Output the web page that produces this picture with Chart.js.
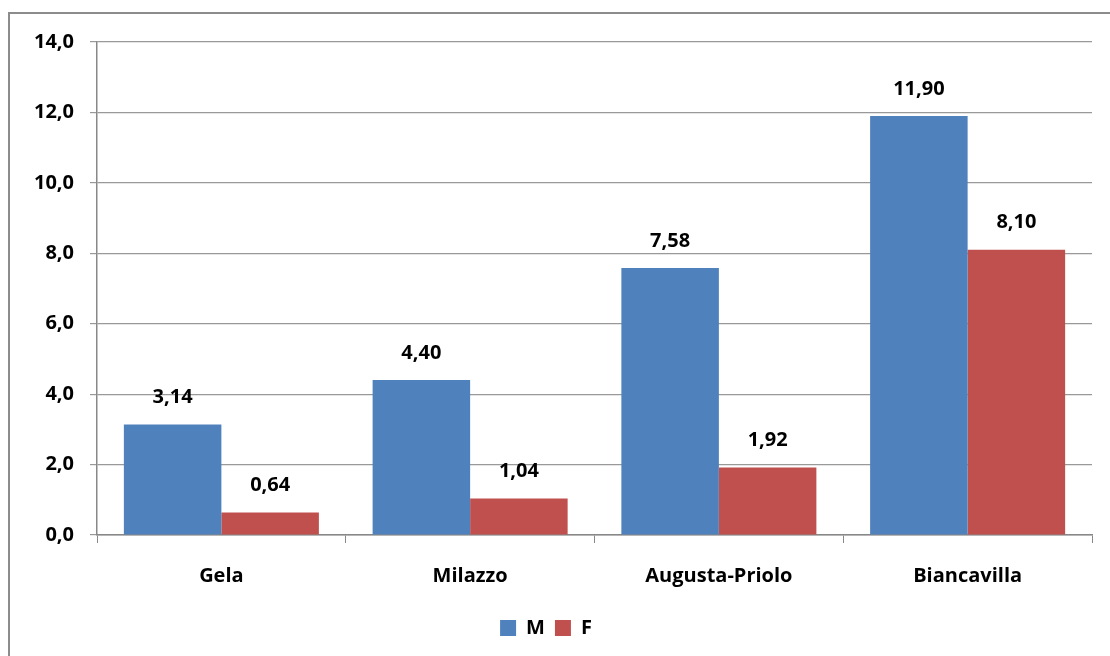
<!DOCTYPE html>
<html>
<head>
<meta charset="utf-8">
<script src="https://cdn.jsdelivr.net/npm/chart.js@4/dist/chart.umd.min.js"></script>
<style>
  html, body { margin: 0; padding: 0; background: #fff; }
  #wrap { width: 1110px; height: 656px; position: relative; }
</style>
</head>
<body>
<div id="wrap"><canvas id="c" width="1110" height="656"></canvas></div>
<script>
const categories = ['Gela', 'Milazzo', 'Augusta-Priolo', 'Biancavilla'];
const valuesM = [3.14, 4.40, 7.58, 11.90];
const valuesF = [0.64, 1.04, 1.92, 8.10];
const seriesNames = ['M', 'F'];
const colorM = '#4F81BD';
const colorF = '#C0504D';

const FONT = '"Open Sans", Lato, "Liberation Sans", sans-serif';
const FSIZE = 20;
const fmt = (v, d) => v.toFixed(d).replace('.', ',');

// Outer frame of the chart object
const framePlugin = {
  id: 'frame',
  beforeDraw(chart) {
    const ctx = chart.ctx;
    ctx.save();
    ctx.fillStyle = '#fff';
    ctx.fillRect(0, 0, chart.width, chart.height);
    ctx.strokeStyle = '#8c8c8c';
    ctx.lineWidth = 2;
    ctx.beginPath();
    ctx.moveTo(9, chart.height + 5);
    ctx.lineTo(9, 13);
    ctx.lineTo(chart.width + 5, 13);
    ctx.stroke();
    ctx.restore();
  }
};

// Value labels above each bar
const valueLabels = {
  id: 'valueLabels',
  afterDatasetsDraw(chart) {
    const ctx = chart.ctx;
    ctx.save();
    ctx.font = 'bold ' + FSIZE + 'px ' + FONT;
    ctx.fillStyle = '#000';
    ctx.textAlign = 'center';
    ctx.textBaseline = 'middle';
    chart.data.datasets.forEach((ds, i) => {
      chart.getDatasetMeta(i).data.forEach((bar, j) => {
        ctx.fillText(fmt(ds.data[j], 2), bar.x, bar.y - 27);
      });
    });
    ctx.restore();
  }
};

new Chart(document.getElementById('c'), {
  type: 'bar',
  data: {
    labels: categories,
    datasets: [
      { label: seriesNames[0], data: valuesM, backgroundColor: colorM },
      { label: seriesNames[1], data: valuesF, backgroundColor: colorF }
    ]
  },
  options: {
    responsive: false,
    animation: false,
    devicePixelRatio: 1,
    layout: { padding: { left: 0, right: 18, top: 42, bottom: 8 } },
    datasets: { bar: { categoryPercentage: 0.784, barPercentage: 1.0 } },
    scales: {
      x: {
        grid: { display: true, drawOnChartArea: false, drawTicks: true, tickLength: 8, color: '#888', offset: true },
        border: { display: true, color: '#888', width: 1.5 },
        ticks: { color: '#000', font: { family: FONT, size: FSIZE, weight: 'bold' }, padding: 21 },
        afterFit(s) { s.height = 73; }
      },
      y: {
        min: 0, max: 14,
        ticks: { stepSize: 2, color: '#000', font: { family: FONT, size: FSIZE, weight: 'bold' }, padding: 16,
                 callback: v => fmt(v, 1) },
        grid: { color: '#999', lineWidth: 1.2, tickLength: 7 },
        border: { display: true, color: '#888', width: 1.5 },
        afterFit(s) { s.width = 97; }
      }
    },
    plugins: {
      legend: {
        position: 'bottom',
        labels: { boxWidth: 16, boxHeight: 16, color: '#000', padding: 10,
                  font: { family: FONT, size: FSIZE, weight: 'bold' } }
      },
      tooltip: { enabled: false }
    }
  },
  plugins: [framePlugin, valueLabels]
});
</script>
</body>
</html>
